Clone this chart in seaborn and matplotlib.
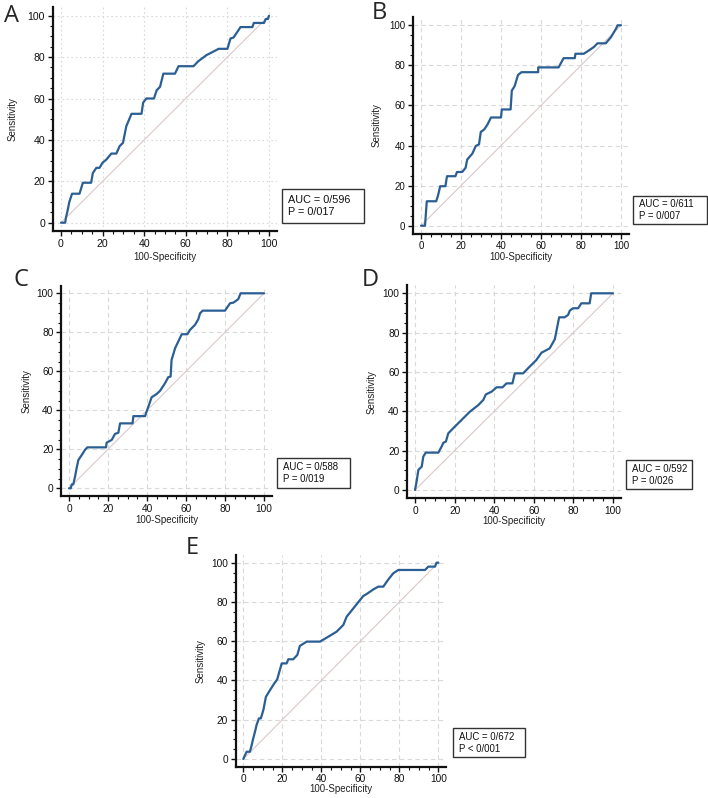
import numpy as np
import pandas as pd
import matplotlib
matplotlib.use("Agg")
import matplotlib.pyplot as plt
import seaborn as sns
from matplotlib.patches import Rectangle
from matplotlib.ticker import MultipleLocator

sns.set_style("white")
plt.rcParams['font.family'] = ['Liberation Sans', 'DejaVu Sans']

# ROC curves (100-Specificity, Sensitivity)
a_x = [0, 2.0, 2.4, 3.2, 4.0, 5.3, 8.9, 10.5, 14.5, 15.3, 17.0, 18.5, 20.0, 21.8, 24.2, 26.6,
       28.2, 29.8, 31.4, 33.9, 38.7, 39.5, 41.0, 44.7, 46.0, 47.6, 49.2, 54.8, 56.5, 63.7,
       66.0, 70.0, 72.0, 75.8, 80.0, 81.5, 83.0, 86.3, 92.0, 92.7, 97.6, 98.4, 99.5, 100]
a_y = [0, 0, 2.5, 6.0, 10.0, 14.0, 14.0, 19.3, 19.3, 24.0, 26.5, 26.5, 29.0, 30.5, 33.4, 33.4,
       37.0, 38.6, 46.6, 52.6, 52.6, 58.0, 60.0, 60.0, 64.0, 65.6, 72.0, 72.0, 75.6, 75.6,
       78.0, 81.0, 82.0, 84.0, 84.0, 89.0, 89.5, 94.5, 94.5, 96.5, 96.5, 98.4, 98.4, 100]

b_x = [0, 2.0, 2.9, 7.6, 8.5, 9.6, 12.2, 13.0, 17.2, 18.0, 20.6, 22.3, 23.1, 25.7, 27.4, 29.0,
       29.9, 31.6, 33.3, 35.0, 40.0, 40.4, 44.8, 45.4, 46.8, 48.5, 50.2, 58.6, 58.6, 68.8,
       71.3, 76.9, 77.2, 81.4, 84.0, 86.5, 88.2, 92.4, 95.0, 97.5, 98.3, 100]
b_y = [0, 0, 12.2, 12.2, 15.0, 19.7, 19.7, 24.7, 24.7, 26.8, 26.8, 28.9, 33.0, 36.0, 39.8, 40.6,
       46.8, 48.0, 50.6, 54.0, 54.0, 58.0, 58.0, 67.4, 69.6, 75.2, 76.6, 76.6, 79.0, 79.0,
       83.6, 83.6, 85.8, 85.8, 87.5, 89.2, 91.0, 91.0, 94.1, 98.3, 100, 100]

c_x = [0, 0.9, 1.4, 2.2, 3.1, 3.9, 4.8, 6.5, 8.2, 9.4, 19.0, 19.3, 21.9, 23.6, 25.3, 26.2,
       32.6, 33.0, 39.0, 40.7, 42.4, 45.0, 46.7, 49.2, 50.9, 52.1, 52.6, 54.4, 56.0, 57.8,
       60.7, 62.0, 64.6, 66.3, 67.2, 68.5, 80.0, 82.6, 84.3, 86.8, 88.0, 100]
c_y = [0, 0, 2.0, 2.0, 6.0, 10.3, 14.5, 17.0, 19.7, 21.0, 21.0, 23.4, 24.8, 27.9, 28.5, 33.3,
       33.3, 37.0, 37.0, 41.9, 46.7, 48.4, 50.0, 53.8, 57.0, 57.3, 65.8, 71.8, 75.2, 79.0,
       79.0, 81.2, 83.8, 86.7, 89.7, 91.1, 91.1, 94.9, 95.2, 97.0, 100, 100]

d_x = [0, 0.8, 1.7, 3.4, 4.2, 5.4, 11.8, 13.4, 14.3, 15.6, 16.8, 19.3, 21.8, 23.5, 27.7, 32.0,
       34.5, 35.8, 38.7, 41.2, 44.2, 46.2, 49.2, 50.4, 54.6, 57.1, 61.3, 63.9, 68.0, 70.6,
       72.8, 75.6, 77.3, 78.2, 79.8, 82.4, 84.0, 88.2, 89.0, 100]
d_y = [0, 4.2, 10.2, 11.9, 17.0, 19.0, 19.0, 22.0, 24.0, 24.6, 28.8, 31.4, 33.9, 35.6, 39.8, 43.2,
       45.8, 48.6, 50.0, 52.2, 52.2, 54.2, 54.2, 59.3, 59.3, 61.9, 66.1, 69.8, 72.0, 76.6,
       87.8, 87.8, 89.0, 91.2, 92.4, 92.4, 94.9, 94.9, 100, 100]

e_x = [0, 0.9, 1.7, 3.4, 4.3, 5.1, 6.0, 6.8, 8.0, 9.0, 10.3, 11.6, 13.7, 15.9, 17.4, 19.7,
       22.2, 23.1, 25.6, 27.7, 29.0, 32.5, 39.3, 43.6, 47.9, 51.3, 53.0, 56.4, 59.8, 61.5,
       63.2, 66.7, 69.2, 71.8, 74.4, 76.9, 79.5, 93.2, 94.9, 98.3, 99.1, 100]
e_y = [0, 2.0, 3.7, 3.7, 7.1, 10.5, 13.9, 17.3, 20.7, 20.7, 25.0, 31.7, 35.1, 38.5, 40.6, 48.7,
       48.7, 50.8, 50.8, 53.0, 57.6, 59.8, 59.8, 62.3, 64.9, 68.3, 72.5, 76.7, 80.9, 83.0,
       84.0, 86.4, 87.8, 87.8, 91.5, 94.6, 96.3, 96.3, 98.0, 98.0, 100, 100]

diag = [0, 100]
letters = ['A', 'B', 'C', 'D', 'E']
auc_text = ['AUC = 0/596', 'AUC = 0/611', 'AUC = 0/588', 'AUC = 0/592', 'AUC = 0/672']
p_text = ['P = 0/017', 'P = 0/007', 'P = 0/019', 'P = 0/026', 'P < 0/001']
curves = [(a_x, a_y), (b_x, b_y), (c_x, c_y), (d_x, d_y), (e_x, e_y)]

W, H = 708, 798
fig = plt.figure(figsize=(W / 100, H / 100), dpi=100)

# pixel layout per panel: data-0/100 positions, letter, box, label spots (centres), font size
layout = [
    dict(x0=61, x100=269, y0=222.7, y100=15.7, let=(11, 16), box=(282, 189, 364, 223),
         ylab=13, xlab=257, fs=7.6, grid=(1.5, 2.5)),
    dict(x0=421, x100=621, y0=225.7, y100=25.3, let=(379, 13), box=(633, 196, 707, 224),
         ylab=377, xlab=257, fs=7.0, grid=(4, 3)),
    dict(x0=69, x100=264, y0=488.3, y100=293.3, let=(21, 280), box=(277, 458, 350, 488),
         ylab=27, xlab=520, fs=7.3, grid=(4, 3)),
    dict(x0=415, x100=613, y0=490, y100=293.3, let=(370, 280), box=(626, 460, 692, 489),
         ylab=372, xlab=521, fs=7.3, grid=(4, 3)),
    dict(x0=243.3, x100=438.3, y0=759, y100=562.7, let=(192, 548), box=(453, 728, 525, 757),
         ylab=201, xlab=789, fs=7.3, grid=(4, 3)),
]

lo, hi = -4, 104
for i, L in enumerate(layout):
    sx = (L['x100'] - L['x0']) / 100
    sy = (L['y0'] - L['y100']) / 100
    left = L['x0'] + lo * sx
    right = L['x0'] + hi * sx
    bottom = L['y0'] - lo * sy
    top = L['y0'] - hi * sy
    ax = fig.add_axes([left / W, 1 - bottom / H, (right - left) / W, (bottom - top) / H])
    ax.set_xlim(lo, hi)
    ax.set_ylim(lo, hi)

    cx, cy = curves[i]
    df = pd.DataFrame({'spec': cx, 'sens': cy})
    ax.plot(diag, diag, color='#dcc8c8', lw=0.8, zorder=1)
    sns.lineplot(data=df, x='spec', y='sens', sort=False, estimator=None,
                 color='#2b5f94', lw=1.6, ax=ax, zorder=3)

    ax.xaxis.set_minor_locator(MultipleLocator(5))
    ax.yaxis.set_minor_locator(MultipleLocator(5))
    ax.set_xticks(range(0, 101, 20))
    ax.set_yticks(range(0, 101, 20))
    ax.grid(True, which='major', color='#d9d9d9', lw=0.8, linestyle=(0, L['grid']))
    ax.set_axisbelow(True)

    for s in ['top', 'right']:
        ax.spines[s].set_visible(False)
    for s in ['left', 'bottom']:
        ax.spines[s].set_linewidth(1.6)
        ax.spines[s].set_color('#111111')
    ax.tick_params(which='major', direction='out', length=3.5, width=1, pad=2,
                   labelsize=L['fs'], colors='#111111', left=True, bottom=True)
    ax.tick_params(which='minor', direction='out', length=2, width=0.8, left=True, bottom=True,
                   colors='#111111')

    ax.set_xlabel('100-Specificity', fontsize=7, color='#222222')
    ax.set_ylabel('Sensitivity', fontsize=7, color='#222222')
    # label positions given as centres; place them directly
    ax.yaxis.label.set_va('center')
    ax.xaxis.label.set_va('center')
    ax.yaxis.set_label_coords((L['ylab'] - left) / (right - left), 0.5)
    ax.xaxis.set_label_coords(0.5, (bottom - L['xlab']) / (bottom - top))

    fig.text(L['let'][0] / W, 1 - L['let'][1] / H, letters[i], fontsize=17,
             family=['Open Sans', 'DejaVu Sans'], ha='center', va='center')

    bx0, by0, bx1, by1 = L['box']
    fig.patches.append(Rectangle((bx0 / W, 1 - by1 / H), (bx1 - bx0) / W, (by1 - by0) / H,
                                 transform=fig.transFigure, fill=False,
                                 edgecolor='#333333', lw=1.0))
    bfs = 7.8 if i == 0 else 6.9
    fig.text((bx0 + 6) / W, 1 - ((by0 + by1) / 2) / H, auc_text[i] + '\n' + p_text[i],
             fontsize=bfs, ha='left', va='center', linespacing=1.25, color='#111111')

fig.savefig('out.png', dpi=100)
